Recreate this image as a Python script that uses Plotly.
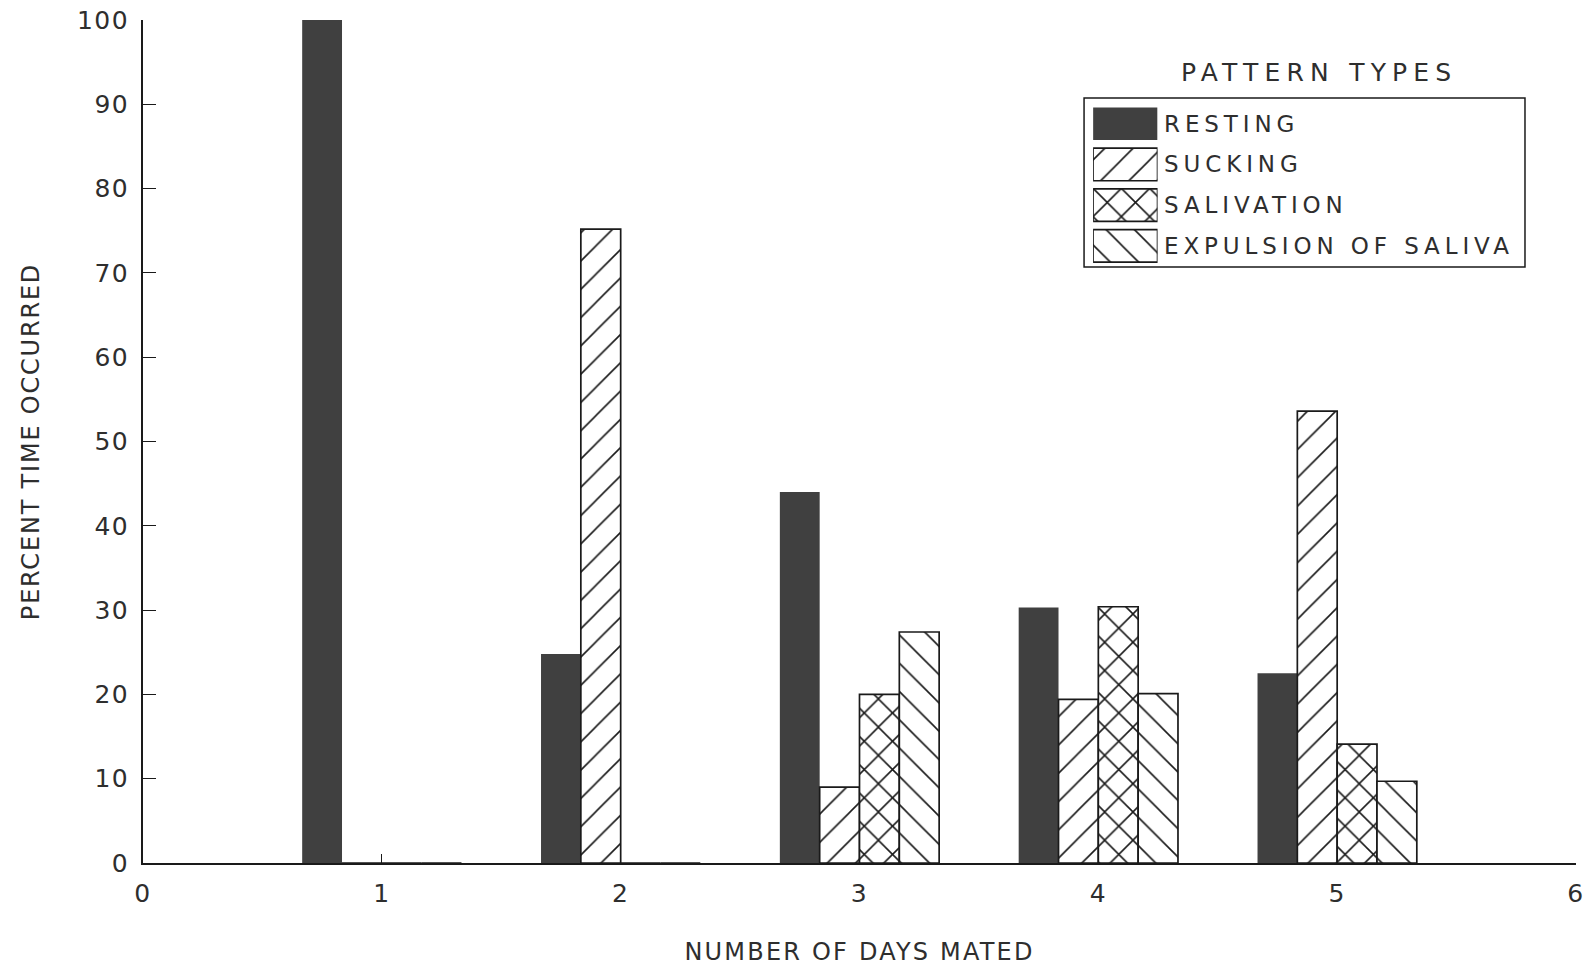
import plotly.graph_objects as go

# Days mated (x categories) and percent of time each pattern type occurred
DAYS = [1, 2, 3, 4, 5]
RESTING = [100, 24.8, 44.0, 30.3, 22.5]
SUCKING = [0, 75.2, 9.0, 19.4, 53.6]
SALIVATION = [0, 0, 20.0, 30.4, 14.1]
EXPULSION = [0, 0, 27.4, 20.1, 9.7]

SERIES = ["RESTING", "SUCKING", "SALIVATION", "EXPULSION OF SALIVA"]
VALUES = [RESTING, SUCKING, SALIVATION, EXPULSION]

X_TICKS = [0, 1, 2, 3, 4, 5, 6]
Y_TICKS = [0, 10, 20, 30, 40, 50, 60, 70, 80, 90, 100]

INK = "#1a1a1a"
TEXT = "#2e2e2e"
DARK = "#404040"
FONT = "DejaVu Sans"


def spaced(text, px):
    """Wrap text in a span with extra tracking between letters."""
    return f'<span style="letter-spacing:{px}px">{text}</span>'


def hatch(shape, size, solidity):
    return dict(shape=shape, size=size, solidity=solidity, fgcolor="#1a1a1a",
                fgopacity=1, bgcolor="white", fillmode="replace")


# fill style per series: solid dark, forward hatch, cross hatch, back hatch
STYLES = [
    dict(color=DARK, line=dict(color=DARK, width=0)),
    dict(color="white", line=dict(color=INK, width=1.7), pattern=hatch("/", 20, 0.08)),
    dict(color="white", line=dict(color=INK, width=1.7), pattern=hatch("x", 20, 0.15)),
    dict(color="white", line=dict(color=INK, width=1.7), pattern=hatch("\\", 20, 0.08)),
]

fig = go.Figure()

for name, vals, style in zip(SERIES, VALUES, STYLES):
    fig.add_trace(go.Bar(x=DAYS, y=vals, name=name, marker=style,
                         showlegend=False, xaxis="x", yaxis="y"))

# key drawn as swatch bars on a small inset axis pair
KEY_ROWS = list(range(len(SERIES)))
for row, name, style in zip(KEY_ROWS, SERIES, STYLES):
    fig.add_trace(go.Bar(x=[1], y=[row], orientation="h", width=0.8, marker=style,
                         showlegend=False, hoverinfo="skip", xaxis="x2", yaxis="y2"))
    fig.add_annotation(x=1, y=row, xref="x2", yref="y2", text=spaced(name, 4.9),
                       showarrow=False, xanchor="left", yanchor="middle", xshift=4,
                       font=dict(family=FONT, size=23, color=TEXT))

fig.add_shape(type="rect", xref="paper", yref="paper",
              x0=0.6567, x1=0.9644, y0=0.7069, y1=0.9074,
              line=dict(color=INK, width=1.5))
fig.add_annotation(x=0.8207, y=0.938, xref="paper", yref="paper",
                   text=spaced("PATTERN TYPES", 6.2),
                   showarrow=False, xanchor="center", yanchor="middle",
                   font=dict(family=FONT, size=25, color=TEXT))

fig.update_layout(
    width=1591, height=969,
    margin=dict(l=143, r=15, t=20, b=106, autoexpand=False),
    paper_bgcolor="white", plot_bgcolor="white",
    barmode="group", bargap=0.333, bargroupgap=0,
    font=dict(family=FONT, size=24, color=TEXT),
    xaxis=dict(
        range=[0, 6], tickvals=X_TICKS, ticktext=[spaced(t, 1.5) for t in X_TICKS],
        showline=True, linecolor=INK, linewidth=1.6, mirror=False,
        ticks="inside", ticklen=9, tickwidth=1.4, tickcolor=INK,
        showgrid=False, zeroline=False, ticklabelstandoff=7,
        tickfont=dict(family=FONT, size=25, color=TEXT),
        title=dict(text=spaced("NUMBER OF DAYS MATED", 2.2), standoff=36,
                   font=dict(family=FONT, size=24, color=TEXT)),
        automargin=False,
    ),
    yaxis=dict(
        range=[0, 100], tickvals=Y_TICKS, ticktext=[spaced(t, 1.5) for t in Y_TICKS],
        showline=True, linecolor=INK, linewidth=1.6,
        ticks="inside", ticklen=13, tickwidth=1.4, tickcolor=INK,
        showgrid=False, zeroline=False, ticklabelstandoff=7,
        tickfont=dict(family=FONT, size=25, color=TEXT),
        title=dict(text=spaced("PERCENT TIME OCCURRED", 1.8), standoff=31,
                   font=dict(family=FONT, size=24, color=TEXT)),
        automargin=False,
    ),
    xaxis2=dict(domain=[0.663, 0.708], range=[0, 1], anchor="y2",
                visible=False, fixedrange=True),
    yaxis2=dict(domain=[0.708, 0.901], range=[3.5, -0.5], anchor="x2",
                visible=False, fixedrange=True),
)

fig.write_html("out.html")
